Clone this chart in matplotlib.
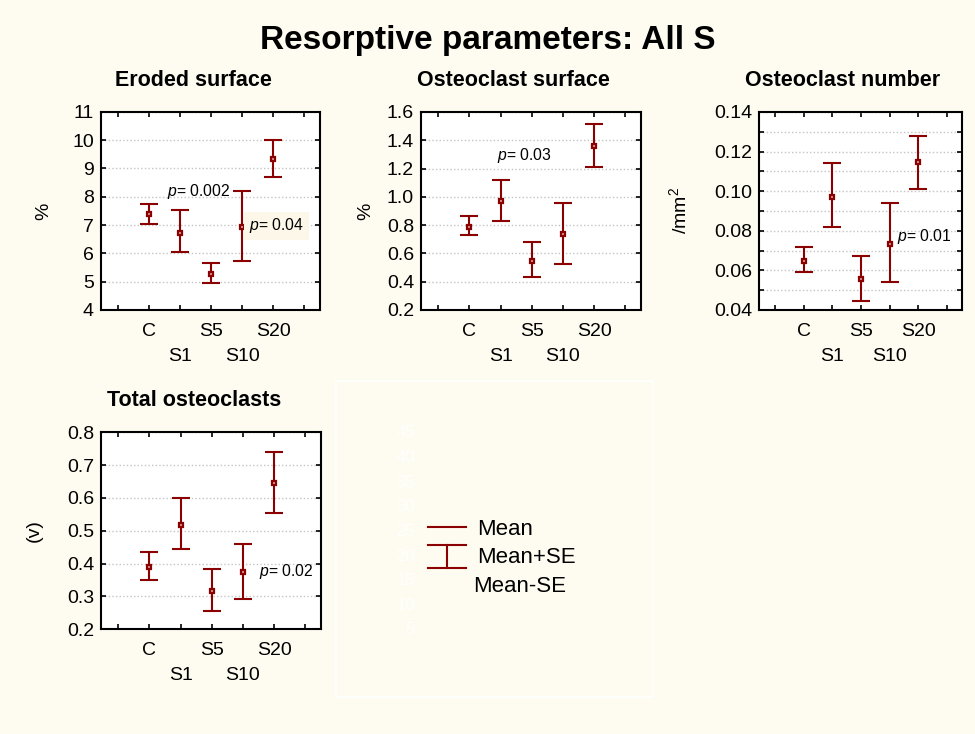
import numpy as np
import matplotlib
matplotlib.use("Agg")
import matplotlib.pyplot as plt
from matplotlib.lines import Line2D
from matplotlib.patches import Rectangle
from matplotlib.ticker import MultipleLocator, FormatStrFormatter, FixedLocator, FixedFormatter

# Data
groups = ['C', 'S1', 'S5', 'S10', 'S20']

eroded_mean = [7.38, 6.73, 5.26, 6.94, 9.34]
eroded_upper = [7.74, 7.52, 5.66, 8.20, 10.01]
eroded_lower = [7.04, 6.05, 4.94, 5.73, 8.68]

ocs_mean = [0.790, 0.974, 0.549, 0.734, 1.357]
ocs_upper = [0.866, 1.120, 0.684, 0.955, 1.517]
ocs_lower = [0.731, 0.830, 0.434, 0.526, 1.208]

ocn_mean = [0.0650, 0.0973, 0.0559, 0.0732, 0.1145]
ocn_upper = [0.0719, 0.1140, 0.0675, 0.0938, 0.1280]
ocn_lower = [0.0592, 0.0817, 0.0447, 0.0540, 0.1010]

tot_mean = [0.390, 0.518, 0.318, 0.373, 0.646]
tot_upper = [0.4345, 0.600, 0.385, 0.461, 0.741]
tot_lower = [0.350, 0.445, 0.257, 0.293, 0.555]

legend_labels = ['Mean', 'Mean+SE', 'Mean-SE']
ghost_ticks = [45, 40, 35, 30, 25, 20, 15, 10, 5]

# Style
RED = '#8B0000'
BG = '#FEFBF0'
W, H = 975, 734
TICK_FS = 14

plt.rcParams['font.family'] = ['Liberation Sans', 'DejaVu Sans']
plt.rcParams['mathtext.fontset'] = 'custom'
plt.rcParams['mathtext.it'] = 'Liberation Sans:italic'
plt.rcParams['mathtext.rm'] = 'Liberation Sans'


def fx(px):
    return px / W


def fy(py):
    return 1 - py / H


def box(left, top, right, bottom):
    return [fx(left), fy(bottom), fx(right) - fx(left), (bottom - top) / H]


def panel(ax, mean, upper, lower, ylim, major, minor, fmt, ylabel, labelx,
          ptext, ppos, pbox=False):
    x = np.arange(len(groups)) + 2
    mean = np.array(mean)
    yerr = [mean - np.array(lower), np.array(upper) - mean]
    ax.errorbar(x, mean, yerr=yerr, fmt='none', ecolor=RED, elinewidth=1.5,
                capsize=6.8, capthick=1.5, zorder=3)
    ax.plot(x, mean, 's', ms=3.4, mfc='#D8A8A8', mec=RED, mew=1.6, zorder=4)

    ax.set_xlim(0.45, 7.5)
    ax.set_ylim(*ylim)
    # first row of group labels on major ticks, second row on minor ticks
    row1 = [g for i, g in enumerate(groups) if i % 2 == 0]
    row2 = [g for i, g in enumerate(groups) if i % 2 == 1]
    pos1 = [p for i, p in enumerate(x) if i % 2 == 0]
    pos2 = [p for i, p in enumerate(x) if i % 2 == 1]
    ax.xaxis.set_major_locator(FixedLocator([1] + pos1 + [7]))
    ax.xaxis.set_major_formatter(FixedFormatter([''] + row1 + ['']))
    ax.xaxis.set_minor_locator(FixedLocator(pos2))
    ax.xaxis.set_minor_formatter(FixedFormatter(row2))

    ax.yaxis.set_major_locator(MultipleLocator(major))
    if minor:
        ax.yaxis.set_minor_locator(MultipleLocator(minor))
        grid_which = 'both'
    else:
        grid_which = 'major'
    ax.yaxis.set_major_formatter(FormatStrFormatter(fmt))
    ax.tick_params(axis='both', which='both', direction='in', top=True, right=True,
                   length=3.5, width=1.2, labelsize=TICK_FS)
    ax.tick_params(axis='x', which='major', pad=9)
    ax.tick_params(axis='x', which='minor', pad=27.5)
    ax.tick_params(axis='y', which='both', pad=5)
    ax.grid(True, axis='y', which=grid_which, color='#C4C4C4', linestyle=(0, (1, 1.6)),
            linewidth=1.0)
    for s in ax.spines.values():
        s.set_linewidth(1.5)
    ax.set_facecolor('white')
    ax.set_ylabel(ylabel, fontsize=TICK_FS)
    ax.yaxis.set_label_coords(labelx, 0.5)

    kw = dict(transform=ax.transAxes, ha='left', va='center', fontsize=11.3, zorder=5)
    if pbox:
        kw['bbox'] = dict(boxstyle='square,pad=0.3', facecolor='#FCF7E8', edgecolor='none')
    ax.text(ppos[0], ppos[1], ptext, **kw)


fig = plt.figure(figsize=(W / 100, H / 100), dpi=100, facecolor=BG)

ax1 = fig.add_axes(box(100.7, 111.7, 320, 310))
ax2 = fig.add_axes(box(421, 112, 641, 310))
ax3 = fig.add_axes(box(759, 112, 961.5, 310))
ax4 = fig.add_axes(box(101, 432.3, 321, 629.3))

panel(ax1, eroded_mean, eroded_upper, eroded_lower, (4, 11), 1, None, '%d', '%', -0.222,
      '$p$= 0.002', (0.302, 0.597))
ax1.text(0.676, 0.424, '$p$= 0.04', transform=ax1.transAxes, ha='left', va='center',
         fontsize=11.3, zorder=5,
         bbox=dict(boxstyle='square,pad=0.3', facecolor='#FCF7E8', edgecolor='none'))
panel(ax2, ocs_mean, ocs_upper, ocs_lower, (0.2, 1.6), 0.2, None, '%.1f', '%', -0.214,
      '$p$= 0.03', (0.345, 0.779))
panel(ax3, ocn_mean, ocn_upper, ocn_lower, (0.04, 0.14), 0.02, 0.01, '%.2f',
      '/mm$^2$', -0.34, '$p$= 0.01', (0.681, 0.369))
panel(ax4, tot_mean, tot_upper, tot_lower, (0.2, 0.8), 0.1, None, '%.1f', '(v)', -0.264,
      '$p$= 0.02', (0.718, 0.292))

# Titles
fig.text(fx(487.5), fy(49), 'Resorptive parameters: All S', ha='center', va='baseline',
         fontsize=24, fontweight='bold')
for title, cx, base in [('Eroded surface', 193, 86), ('Osteoclast surface', 513, 86),
                        ('Osteoclast number', 843, 86), ('Total osteoclasts', 194, 406)]:
    fig.text(fx(cx), fy(base), title, ha='center', va='baseline', fontsize=15.5,
             fontweight='bold')

# Legend panel
fig.add_artist(Rectangle((fx(336), fy(696.7)), fx(652.7) - fx(336), (696.7 - 381) / H,
                         transform=fig.transFigure, facecolor='none', edgecolor='white',
                         linewidth=1.2))
gy = np.linspace(432.7, 630, len(ghost_ticks))
for v, yy in zip(ghost_ticks, gy):
    fig.text(fx(415), fy(yy), str(v), ha='right', va='center', fontsize=12, color='white')

fig.add_artist(Line2D([fx(427.7), fx(466)], [fy(527.3)] * 2, transform=fig.transFigure,
                      color=RED, linewidth=1.5))
fig.add_artist(Line2D([fx(427.7), fx(466)], [fy(544.7)] * 2, transform=fig.transFigure,
                      color=RED, linewidth=1.5))
fig.add_artist(Line2D([fx(427.7), fx(466)], [fy(567.7)] * 2, transform=fig.transFigure,
                      color=RED, linewidth=1.5))
fig.add_artist(Line2D([fx(446.7), fx(446.7)], [fy(544.7), fy(567.7)],
                      transform=fig.transFigure, color=RED, linewidth=1.5))
for lab, lx, ly in zip(legend_labels, [476.7, 476.7, 473.3], [529.3, 557.7, 586]):
    fig.text(fx(lx), fy(ly), lab, ha='left', va='center', fontsize=16)

fig.savefig('out.png', dpi=100, facecolor=BG)
